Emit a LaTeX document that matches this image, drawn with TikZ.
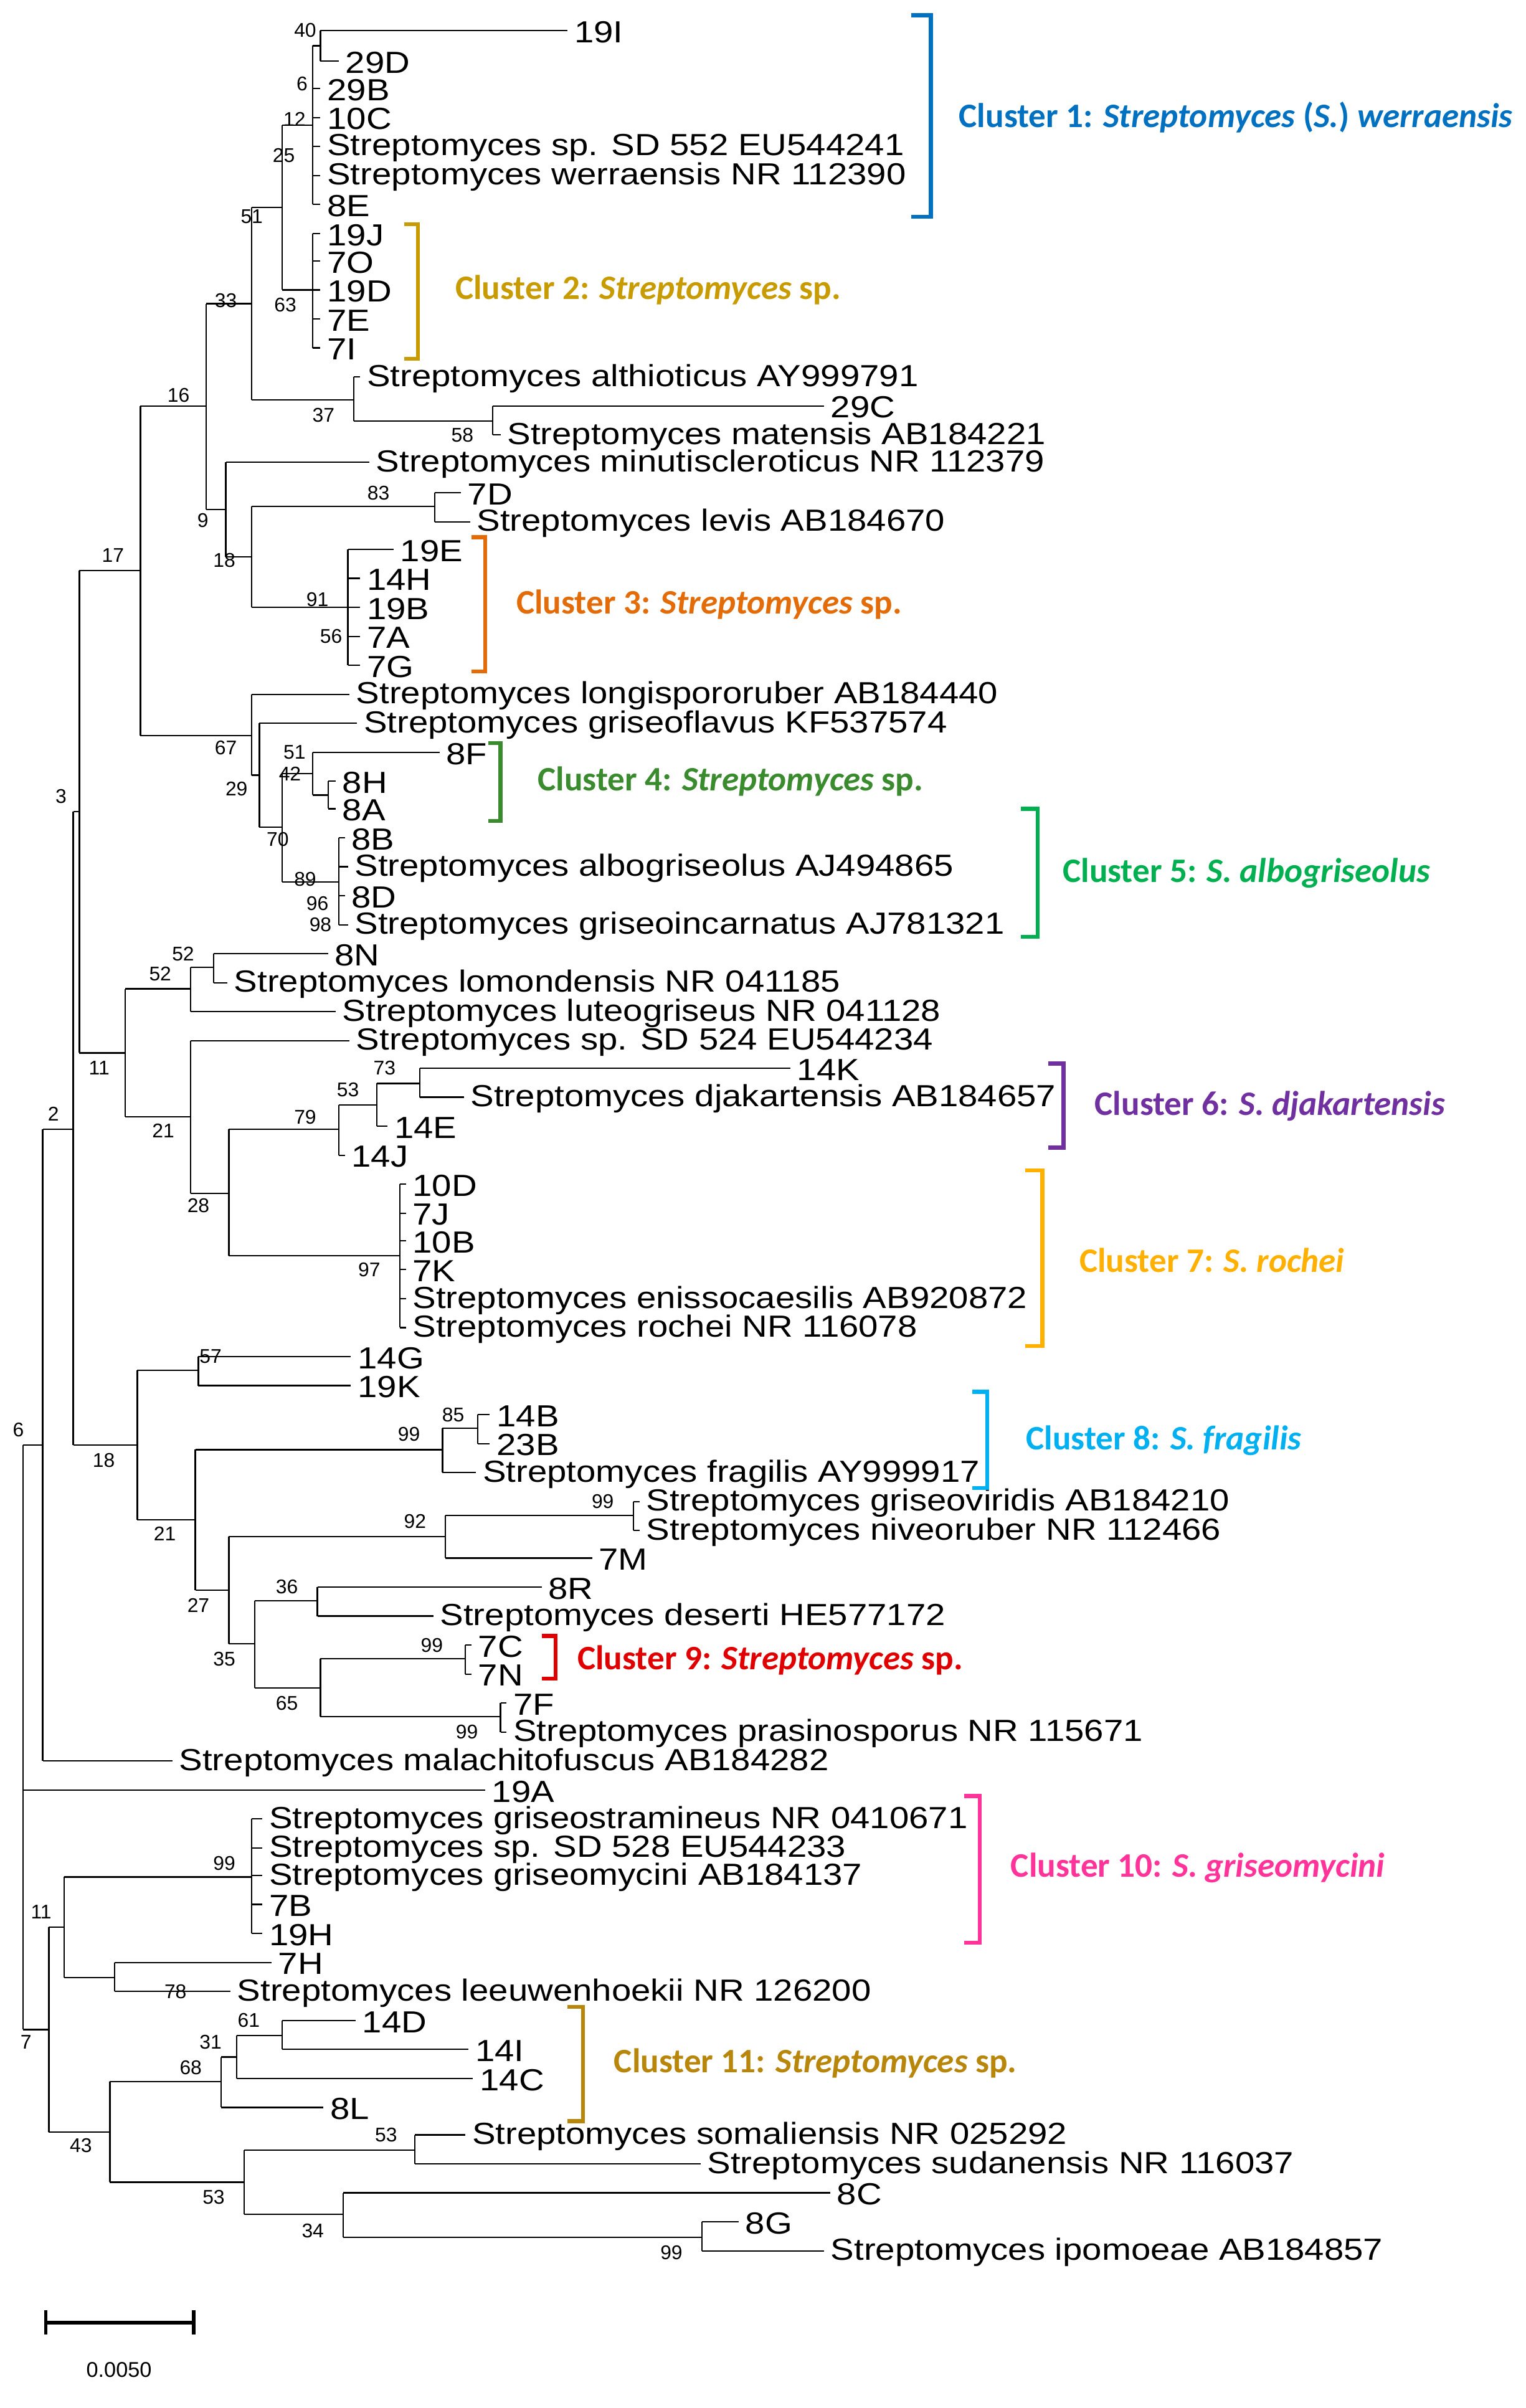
\documentclass[tikz,border=0pt]{standalone}
\usepackage{fontspec}
\setmainfont{Liberation Sans}
\newfontfamily\wide{Liberation Sans}[FakeStretch=1.15]
\newfontfamily\clfont{Carlito}
\begin{document}
\begin{tikzpicture}[x=1pt,y=-1pt,line width=0.9pt,
 lbl/.style={anchor=west,inner sep=0pt,font=\wide\fontsize{20}{20}\selectfont},
 bsl/.style={inner sep=0pt,font=\fontsize{13}{13}\selectfont},
 cl/.style={anchor=west,inner sep=0pt,font=\clfont\bfseries\fontsize{22.5}{22}\selectfont},
 br/.style={line width=2.6pt}]
\useasboundingbox (0,0) rectangle (1000,1578);
\fill[white] (0,0) rectangle (1000,1578);
\newcommand\V[3]{\draw (#1,#2)--(#1,#3);}
\newcommand\Hl[3]{\draw (#1,#3)--(#2,#3);}
\newcommand\Lf[5]{\draw (#1,#3)--(#2,#3); \node[lbl] (#5) at (#2+4,#3+1) {#4};}
\newcommand\B[3]{\node[bsl] at (#1,#2) {#3};}
\newcommand\Cb[5]{\draw[br,color=#5] (#1,#3)--(#2,#3)--(#2,#4)--(#1,#4);}
% cluster 1
\V{210}{20}{40}\Lf{210}{372}{20}{19I}{l1}\Lf{210}{222}{40}{29D}{l2}
\V{205}{30}{134}\Hl{205}{210}{30}
\Lf{205}{210}{58}{29B}{l3}\Lf{205}{210}{77}{10C}{l4}\Lf{205}{210}{96}{Streptomyces sp. SD 552 EU544241}{l5}
\Lf{205}{210}{115}{Streptomyces werraensis NR 112390}{l6}\Lf{205}{210}{134}{8E}{l7}
% cluster 2
\V{205}{153}{228}
\Lf{205}{210}{153}{19J}{l8}\Lf{205}{210}{171}{7O}{l9}\Lf{205}{210}{190}{19D}{l10}\Lf{205}{210}{209}{7E}{l11}\Lf{205}{210}{228}{7I}{l12}
\V{185}{82}{190}\Hl{185}{205}{82}\Hl{185}{205}{190}
\V{165}{136}{262}\Hl{165}{185}{136}
\V{232}{247}{276}\Hl{165}{232}{262}\Lf{232}{236}{247}{Streptomyces althioticus AY999791}{l13}
\V{323}{266}{285}\Hl{232}{323}{276}\Lf{323}{540}{266}{29C}{l14}\Lf{323}{328}{285}{Streptomyces matensis AB184221}{l15}
\Lf{148}{242}{303}{Streptomyces minutiscleroticus NR 112379}{l16}
\V{285}{323}{342}\Lf{285}{302}{323}{7D}{l17}\Lf{285}{308}{342}{Streptomyces levis AB184670}{l18}
\V{228}{360}{436}\Lf{228}{258}{360}{19E}{l19}\Lf{228}{236}{379}{14H}{l20}\Lf{228}{236}{398}{19B}{l21}\Lf{228}{236}{417}{7A}{l22}\Lf{228}{236}{436}{7G}{l23}
\V{165}{332}{398}\Hl{165}{285}{332}\Hl{165}{228}{398}
\V{148}{303}{365}\Hl{148}{165}{365}
\V{135}{199}{334}\Hl{135}{148}{334}\Hl{135}{165}{199}
% cluster 4/5
\V{215}{512}{530}\Lf{215}{220}{512}{8H}{l24}\Lf{215}{220}{530}{8A}{l25}
\V{205}{493}{521}\Lf{205}{288}{493}{8F}{l26}\Hl{205}{215}{521}
\V{222}{549}{606}\Lf{222}{226}{549}{8B}{l27}\Lf{222}{228}{568}{Streptomyces albogriseolus AJ494865}{l28}\Lf{222}{226}{587}{8D}{l29}\Lf{222}{228}{606}{Streptomyces griseoincarnatus AJ781321}{l30}
\V{185}{507}{578}\Hl{185}{205}{507}\Hl{185}{222}{578}
\V{170}{474}{542}\Lf{170}{234}{474}{Streptomyces griseoflavus KF537574}{l31}\Hl{170}{185}{542}
\V{165}{455}{508}\Lf{165}{229}{455}{Streptomyces longispororuber AB184440}{l32}\Hl{165}{170}{508}
\V{92}{266}{482}\Hl{92}{135}{266}\Hl{92}{165}{482}
% middle
\V{140}{625}{644}\Lf{140}{215}{625}{8N}{l33}\Lf{140}{149}{644}{Streptomyces lomondensis NR 041185}{l34}
\V{125}{634}{663}\Hl{125}{140}{634}\Lf{125}{220}{663}{Streptomyces luteogriseus NR 041128}{l35}
\V{275}{700}{719}\Lf{275}{518}{700}{14K}{l36}\Lf{275}{304}{719}{Streptomyces djakartensis AB184657}{l37}
\V{247}{710}{738}\Hl{247}{275}{710}\Lf{247}{254}{738}{14E}{l38}
\V{222}{724}{757}\Hl{222}{247}{724}\Lf{222}{226}{757}{14J}{l39}
\V{262}{776}{870}\Lf{262}{266}{776}{10D}{l40}\Lf{262}{266}{795}{7J}{l41}\Lf{262}{266}{813}{10B}{l42}\Lf{262}{266}{832}{7K}{l43}\Lf{262}{266}{851}{Streptomyces enissocaesilis AB920872}{l44}\Lf{262}{266}{870}{Streptomyces rochei NR 116078}{l45}
\V{150}{740}{823}\Hl{150}{222}{740}\Hl{150}{262}{823}
\V{125}{682}{782}\Lf{125}{229}{682}{Streptomyces sp. SD 524 EU544234}{l46}\Hl{125}{150}{782}
\V{82}{648}{732}\Hl{82}{125}{648}\Hl{82}{125}{732}
\V{52}{374}{690}\Hl{52}{92}{374}\Hl{52}{82}{690}
% node 18
\V{130}{889}{908}\Lf{130}{230}{889}{14G}{l47}\Lf{130}{230}{908}{19K}{l48}
\V{313}{927}{946}\Lf{313}{321}{927}{14B}{l49}\Lf{313}{321}{946}{23B}{l50}
\V{290}{936}{965}\Hl{290}{313}{936}\Lf{290}{312}{965}{Streptomyces fragilis AY999917}{l51}
\V{415}{984}{1003}\Lf{415}{419}{984}{Streptomyces griseoviridis AB184210}{l52}\Lf{415}{419}{1003}{Streptomyces niveoruber NR 112466}{l53}
\V{292}{993}{1021}\Hl{292}{415}{993}\Lf{292}{388}{1021}{7M}{l54}
\V{208}{1040}{1059}\Lf{208}{355}{1040}{8R}{l55}\Lf{208}{284}{1059}{Streptomyces deserti HE577172}{l56}
\V{305}{1078}{1097}\Lf{305}{309}{1078}{7C}{l57}\Lf{305}{309}{1097}{7N}{l58}
\V{328}{1116}{1135}\Lf{328}{332}{1116}{7F}{l59}\Lf{328}{332}{1135}{Streptomyces prasinosporus NR 115671}{l60}
\V{210}{1087}{1125}\Hl{210}{305}{1087}\Hl{210}{328}{1125}
\V{167}{1049}{1106}\Hl{167}{208}{1049}\Hl{167}{210}{1106}
\V{150}{1007}{1077}\Hl{150}{292}{1007}\Hl{150}{167}{1077}
\V{128}{950}{1042}\Hl{128}{290}{950}\Hl{128}{150}{1042}
\V{90}{898}{996}\Hl{90}{130}{898}\Hl{90}{128}{996}
\V{48}{532}{947}\Hl{48}{52}{532}\Hl{48}{90}{947}
\V{28}{740}{1154}\Hl{28}{48}{740}\Lf{28}{113}{1154}{Streptomyces malachitofuscus AB184282}{l61}
% lower
\V{165}{1192}{1267}\Lf{165}{172}{1192}{Streptomyces griseostramineus NR 0410671}{l62}\Lf{165}{172}{1211}{Streptomyces sp. SD 528 EU544233}{l63}\Lf{165}{172}{1229}{Streptomyces griseomycini AB184137}{l64}\Lf{165}{172}{1248}{7B}{l65}\Lf{165}{172}{1267}{19H}{l66}
\V{75}{1286}{1305}\Lf{75}{178}{1286}{7H}{l67}\Lf{75}{151}{1305}{Streptomyces leeuwenhoekii NR 126200}{l68}
\V{42}{1230}{1296}\Hl{42}{165}{1230}\Hl{42}{75}{1296}
\V{185}{1324}{1343}\Lf{185}{233}{1324}{14D}{l69}\Lf{185}{307}{1343}{14I}{l70}
\V{155}{1334}{1362}\Hl{155}{185}{1334}\Lf{155}{310}{1362}{14C}{l71}
\V{145}{1348}{1381}\Hl{145}{155}{1348}\Lf{145}{212}{1381}{8L}{l72}
\V{272}{1399}{1418}\Lf{272}{305}{1399}{Streptomyces somaliensis NR 025292}{l73}\Lf{272}{459}{1418}{Streptomyces sudanensis NR 116037}{l74}
\V{460}{1456}{1475}\Lf{460}{484}{1456}{8G}{l75}\Lf{460}{540}{1475}{Streptomyces ipomoeae AB184857}{l76}
\V{225}{1437}{1466}\Lf{225}{544}{1437}{8C}{l77}\Hl{225}{460}{1466}
\V{160}{1409}{1451}\Hl{160}{272}{1409}\Hl{160}{225}{1451}
\V{72}{1364}{1430}\Hl{72}{145}{1364}\Hl{72}{160}{1430}
\V{32}{1263}{1397}\Hl{32}{42}{1263}\Hl{32}{72}{1397}
\V{15}{947}{1330}\Hl{15}{28}{947}\Hl{15}{32}{1330}\Lf{15}{318}{1173}{19A}{l78}
% bootstrap
\B{200}{20}{40}\B{198}{55}{6}\B{193}{78}{12}\B{186}{102}{25}\B{165}{142}{51}\B{187}{200}{63}\B{148}{197}{33}
\B{212}{272}{37}\B{303}{285}{58}\B{117}{259}{16}\B{248}{323}{83}\B{133}{341}{9}\B{147}{367}{18}
\B{208}{393}{91}\B{217}{417}{56}\B{74}{364}{17}\B{148}{490}{67}\B{193}{493}{51}\B{190}{507}{42}
\B{155}{517}{29}\B{182}{550}{70}\B{200}{576}{89}\B{208}{592}{96}\B{210}{606}{98}\B{40}{522}{3}
\B{120}{625}{52}\B{105}{638}{52}\B{65}{700}{11}\B{252}{700}{73}\B{228}{714}{53}\B{200}{732}{79}
\B{107}{741}{21}\B{130}{790}{28}\B{242}{832}{97}\B{35}{730}{2}\B{138}{889}{57}\B{297}{927}{85}
\B{268}{940}{99}\B{68}{957}{18}\B{108}{1005}{21}\B{395}{984}{99}\B{272}{997}{92}\B{130}{1052}{27}
\B{188}{1040}{36}\B{147}{1087}{35}\B{283}{1078}{99}\B{188}{1116}{65}\B{306}{1135}{99}\B{12}{937}{6}
\B{147}{1221}{99}\B{27}{1253}{11}\B{115}{1305}{78}\B{163}{1324}{61}\B{138}{1338}{31}\B{125}{1355}{68}
\B{17}{1338}{7}\B{253}{1399}{53}\B{53}{1406}{43}\B{140}{1440}{53}\B{205}{1462}{34}\B{440}{1476}{99}
% clusters
\definecolor{c1}{HTML}{0070C0}\definecolor{c2}{HTML}{C89B00}\definecolor{c3}{HTML}{E36C09}
\definecolor{c4}{HTML}{3A8A2E}\definecolor{c5}{HTML}{00B050}\definecolor{c6}{HTML}{7030A0}
\definecolor{c7}{HTML}{FFB000}\definecolor{c8}{HTML}{00B0F0}\definecolor{c9}{HTML}{E00000}
\definecolor{c10}{HTML}{FF3399}\definecolor{c11}{HTML}{B8860B}
\Cb{597}{610}{10}{142}{c1}\node[cl,c1] (k1) at (628,77) {Cluster 1: \textit{Streptomyces} (\textit{S.}) \textit{werraensis}};
\Cb{265}{274}{147}{235}{c2}\node[cl,c2] (k2) at (298,190) {Cluster 2: \textit{Streptomyces} sp.};
\Cb{309}{318}{352}{440}{c3}\node[cl,c3] (k3) at (338,396) {Cluster 3: \textit{Streptomyces} sp.};
\Cb{320}{328}{487}{538}{c4}\node[cl,c4] (k4) at (352,512) {Cluster 4: \textit{Streptomyces} sp.};
\Cb{669}{680}{530}{614}{c5}\node[cl,c5] (k5) at (696,572) {Cluster 5: \textit{S. albogriseolus}};
\Cb{687}{697}{697}{752}{c6}\node[cl,c6] (k6) at (717,725) {Cluster 6: \textit{S. djakartensis}};
\Cb{672}{683}{767}{882}{c7}\node[cl,c7] (k7) at (707,826) {Cluster 7: \textit{S. rochei}};
\Cb{637}{647}{912}{975}{c8}\node[cl,c8] (k8) at (672,944) {Cluster 8: \textit{S. fragilis}};
\Cb{355}{364}{1072}{1100}{c9}\node[cl,c9] (k9) at (378,1088) {Cluster 9: \textit{Streptomyces} sp.};
\Cb{632}{642}{1177}{1273}{c10}\node[cl,c10] (k10) at (662,1224) {Cluster 10: \textit{S. griseomycini}};
\Cb{372}{382}{1315}{1390}{c11}\node[cl,c11] (k11) at (402,1352) {Cluster 11: \textit{Streptomyces} sp.};
% scale bar
\draw[line width=2.2pt] (30,1522)--(127,1522);
\draw[line width=2.2pt] (30,1514)--(30,1530) (127,1514)--(127,1530);
\node[bsl,font=\fontsize{14}{14}\selectfont] (sc) at (78,1553) {0.0050};
\end{tikzpicture}
\end{document}
